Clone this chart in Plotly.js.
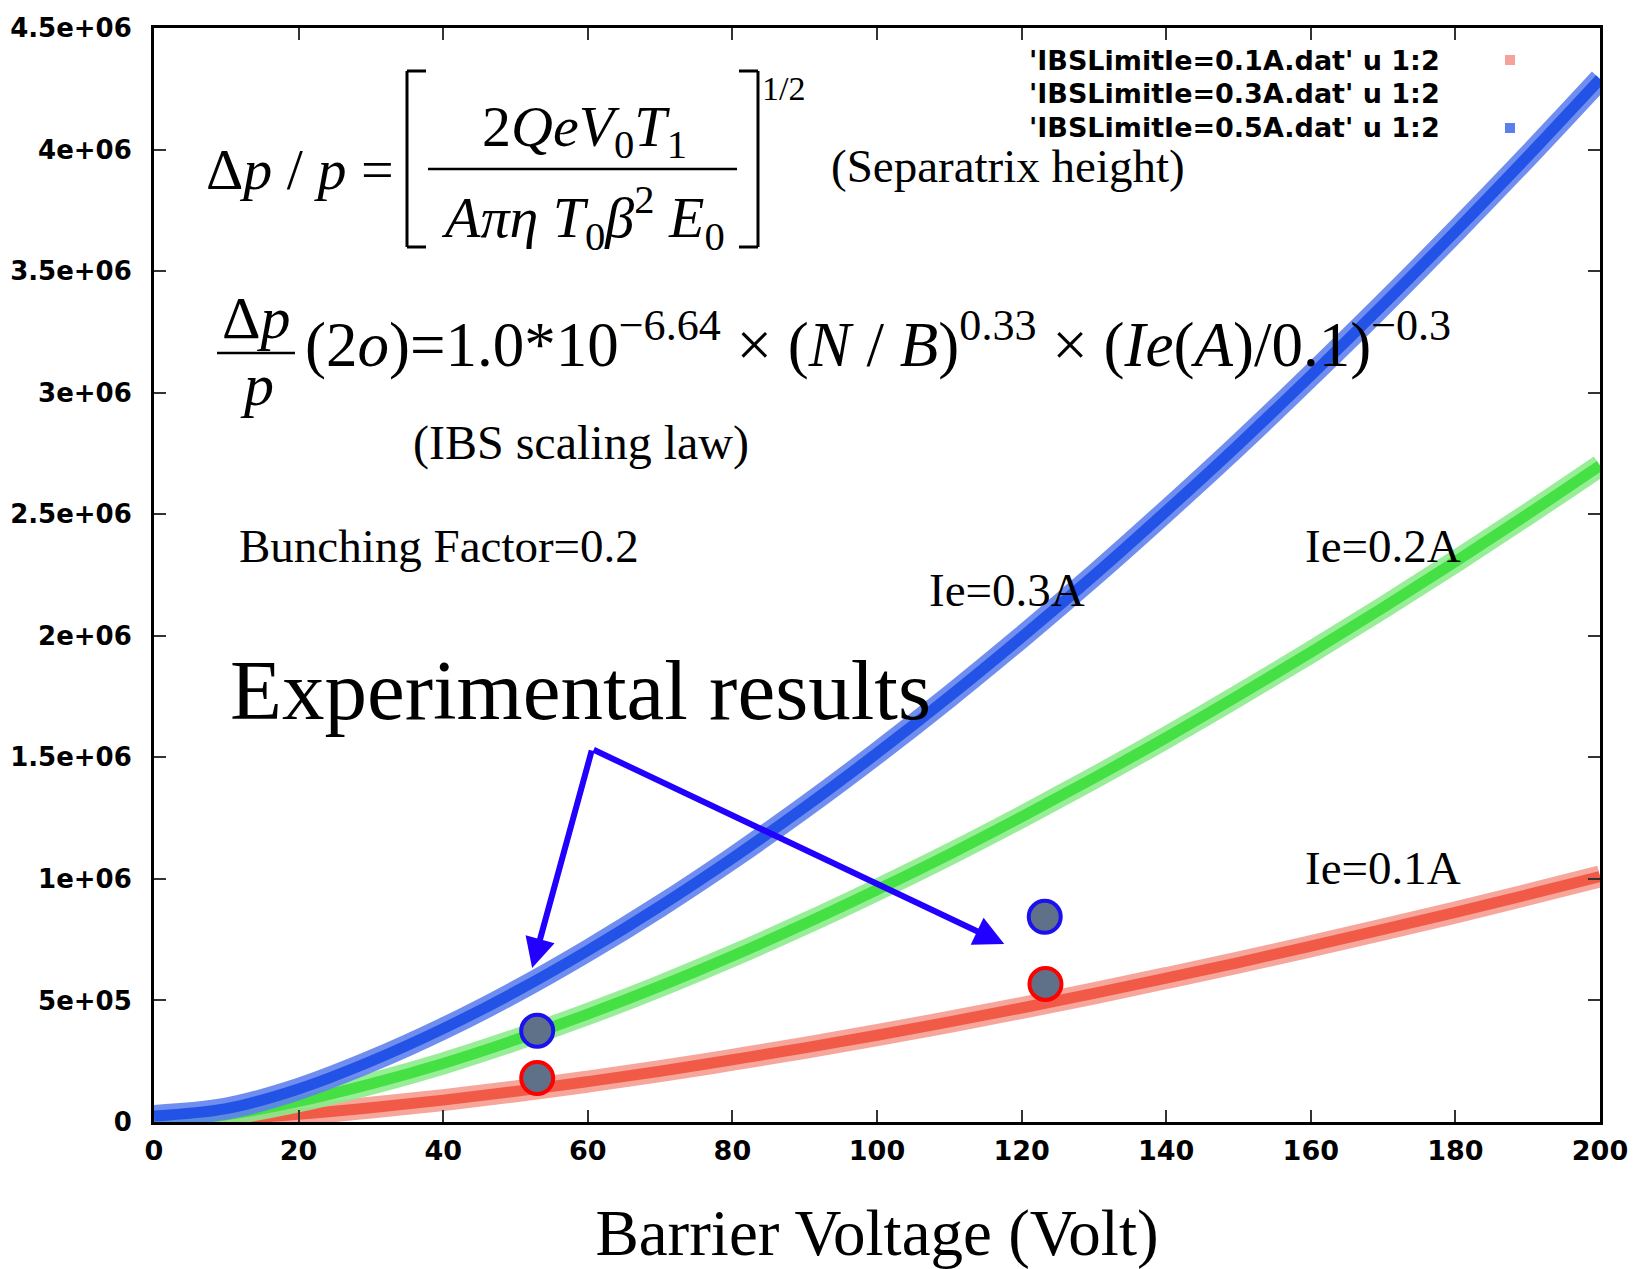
<!DOCTYPE html>
<html>
<head>
<meta charset="utf-8">
<script src="https://cdn.plot.ly/plotly-3.0.1.min.js"></script>
<style>html,body{margin:0;padding:0;background:#fff;}#chart{width:1636px;height:1269px;}</style>
</head>
<body>
<div id="chart"></div>
<script>
// ---- data (y in units of 1e6 as labelled on the axis) ----
const voltage = [0,10,20,30,40,50,60,70,80,90,100,110,120,130,140,150,160,170,180,190,200];
const ibs01 = [0,0.011,0.032,0.059,0.09,0.126,0.166,0.209,0.256,0.305,0.357,0.412,0.469,0.529,0.592,0.656,0.723,0.792,0.862,0.935,1.01];
const ibs03 = [0,0.03,0.085,0.157,0.241,0.338,0.444,0.559,0.683,0.815,0.955,1.101,1.255,1.415,1.581,1.754,1.932,2.116,2.305,2.5,2.7];
const ibs05 = [0.025,0.055,0.136,0.25,0.384,0.536,0.705,0.888,1.085,1.295,1.517,1.75,1.994,2.248,2.513,2.786,3.07,3.362,3.663,3.972,4.29];
const expBlueV = [53.0, 123.2];
const expBlueY = [0.375, 0.844];
const expRedV = [53.0, 123.3];
const expRedY = [0.181, 0.568];
const arrowTail = [60.6, 1.534];
const arrowTips = [[52.3, 0.633], [117.6, 0.732]];
const yTickVals = [0,0.5,1,1.5,2,2.5,3,3.5,4,4.5];
const yTickText = ["0","5e+05","1e+06","1.5e+06","2e+06","2.5e+06","3e+06","3.5e+06","4e+06","4.5e+06"];
const xTickVals = [0,20,40,60,80,100,120,140,160,180,200];
const legendNames = ["'IBSLimitIe=0.1A.dat' u 1:2","'IBSLimitIe=0.3A.dat' u 1:2","'IBSLimitIe=0.5A.dat' u 1:2"];
const curveLabels = ["Ie=0.1A","Ie=0.2A","Ie=0.3A"];

// ---- geometry helpers (plot area in page pixels) ----
const L=154, R=1600, T=28, B=1122;
const px = x => (x-L)/(R-L);
const py = y => (B-y)/(B-T);

const serif = "Liberation Serif, Times New Roman, serif";
const sans = "DejaVu Sans, Liberation Sans, Arial, sans-serif";

function band(y, edge, core){
  return [
    {x:voltage, y:y, type:'scatter', mode:'lines', line:{color:edge, width:22, shape:'spline'}, hoverinfo:'skip', showlegend:false},
    {x:voltage, y:y, type:'scatter', mode:'lines', line:{color:core, width:11, shape:'spline'}, hoverinfo:'skip', showlegend:false}
  ];
}

const traces = [].concat(
  band(ibs01, 'rgba(244,150,138,0.85)', '#f25a48'),
  band(ibs03, 'rgba(140,236,140,0.9)', '#44e044'),
  band(ibs05, 'rgba(95,130,238,0.9)', '#2352e6'),
  [
    {x:expBlueV, y:expBlueY, type:'scatter', mode:'markers', cliponaxis:false,
     marker:{size:32, color:'#5f7089', line:{color:'#1a10f0', width:4}}, showlegend:false, hoverinfo:'skip'},
    {x:expRedV, y:expRedY, type:'scatter', mode:'markers', cliponaxis:false,
     marker:{size:32, color:'#5f7089', line:{color:'#ff0000', width:4}}, showlegend:false, hoverinfo:'skip'}
  ]
);

function txt(text, x, y, size, xanchor, opts){
  return Object.assign({text:text, xref:'paper', yref:'paper', x:px(x), y:py(y), xanchor:xanchor||'left', yanchor:'middle',
    showarrow:false, font:{family:serif, size:size, color:'#000'}}, opts||{});
}
const legFont = {family:sans, size:27, color:'#000', weight:'bold'};

const annotations = [
  // formula 1
  txt('Δ<i>p</i> /<i> p</i> =', 204, 170, 58, 'left'),
  txt('2<i>QeV</i><sub>0</sub><i>T</i><sub>1</sub>', 584, 130, 58, 'center'),
  txt('<i>Aπη T</i><sub>0</sub><i>β</i><sup>2</sup><i> E</i><sub>0</sub>', 583, 218, 58, 'center'),
  txt('1/2', 760, 88, 34, 'left'),
  txt('(Separatrix height)', 829, 166, 47, 'left'),
  // formula 2
  txt('Δ<i>p</i>', 256, 318, 60, 'center'),
  txt('<i>p</i>', 257, 385, 60, 'center'),
  txt('(2<i>o</i>)=1.0*10<sup>−6.64</sup> × (<i>N</i> / <i>B</i>)<sup>0.33</sup> × (<i>Ie</i>(<i>A</i>)/0.1)<sup>−0.3</sup>', 303, 340, 63, 'left'),
  txt('(IBS scaling law)', 411, 443, 48, 'left'),
  txt('Bunching Factor=0.2', 237, 546, 47, 'left'),
  txt(curveLabels[2], 1007, 590, 47, 'center'),
  txt(curveLabels[1], 1383, 546, 47, 'center'),
  txt(curveLabels[0], 1383, 868, 47, 'center'),
  txt('Experimental results', 228, 690, 85, 'left'),
  // legend labels
  txt(legendNames[0], 1442, 60, 27, 'right', {font:legFont}),
  txt(legendNames[1], 1442, 94, 27, 'right', {font:legFont}),
  txt(legendNames[2], 1442, 128, 27, 'right', {font:legFont})
];
arrowTips.forEach(t => annotations.push({
  x:t[0], y:t[1], xref:'x', yref:'y', ax:arrowTail[0], ay:arrowTail[1], axref:'x', ayref:'y',
  text:'', showarrow:true, arrowhead:2, arrowsize:1.0, arrowwidth:6, arrowcolor:'#2200ff', standoff:0
}));

const line = (x0,y0,x1,y1,w) => ({type:'line', xref:'paper', yref:'paper', x0:px(x0), y0:py(y0), x1:px(x1), y1:py(y1), line:{color:'#000', width:w}});
const shapes = [
  // brackets
  line(407,71,407,247,3), line(407,71,426,71,3), line(407,247,426,247,3),
  line(758,71,758,247,3), line(758,71,739,71,3), line(758,247,739,247,3),
  // fraction bars
  line(428,169,737,169,2.5),
  line(217,353,295,353,2.5),
  // legend samples
  {type:'rect', xref:'paper', yref:'paper', x0:px(1505), x1:px(1515), y0:py(55), y1:py(65), fillcolor:'#f4a29a', line:{width:0}},
  {type:'rect', xref:'paper', yref:'paper', x0:px(1505), x1:px(1515), y0:py(123), y1:py(133), fillcolor:'#5a80ee', line:{width:0}}
];

const axisCommon = {showline:true, linecolor:'#000', linewidth:3, mirror:'ticks', ticks:'inside', ticklen:12, tickwidth:2, tickcolor:'#333', showgrid:false, zeroline:false, fixedrange:true};

const layout = {
  width:1636, height:1269, autosize:false,
  margin:{l:L, r:1636-R, t:T, b:1269-B},
  paper_bgcolor:'#fff', plot_bgcolor:'#fff',
  showlegend:false,
  xaxis: Object.assign({}, axisCommon, {range:[0,200], tickvals:xTickVals, ticktext:xTickVals.map(String), ticklabelstandoff:3,
    tickfont:{family:sans, size:27, color:'#000', weight:'bold'},
    title:{text:'Barrier Voltage (Volt)', font:{family:serif, size:65, color:'#000'}, standoff:46}}),
  yaxis: Object.assign({}, axisCommon, {range:[0,4.5], tickvals:yTickVals, ticktext:yTickText, ticklabelstandoff:14,
    tickfont:{family:sans, size:26, color:'#000', weight:'bold'}}),
  annotations: annotations,
  shapes: shapes
};

Plotly.newPlot('chart', traces, layout, {staticPlot:true, displayModeBar:false});
</script>
</body>
</html>
